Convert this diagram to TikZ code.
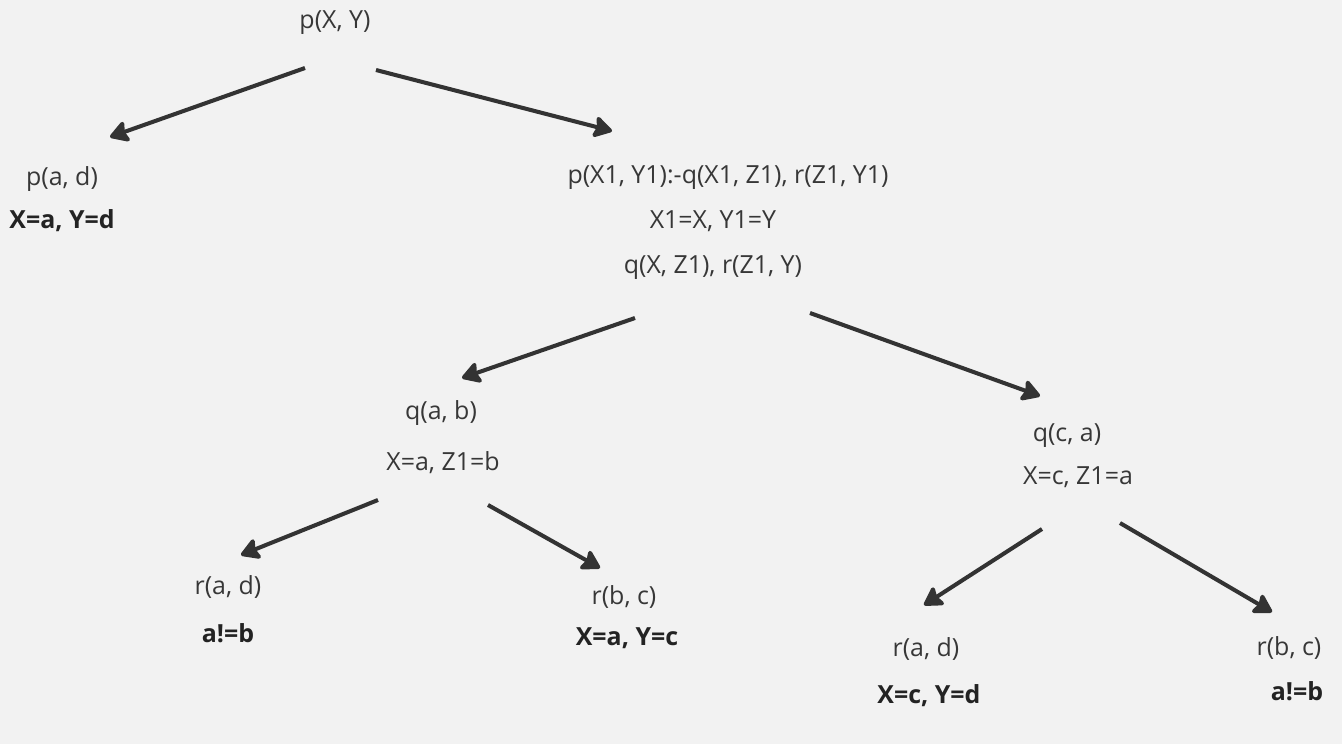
\documentclass[tikz,border=0pt]{standalone}
\usepackage{fontspec}
\setmainfont{Open Sans}
\usetikzlibrary{arrows.meta}
\definecolor{canvasbg}{RGB}{242, 242, 242}
\definecolor{goaltext}{RGB}{55, 55, 55}
\definecolor{bindtext}{RGB}{35, 35, 35}
\definecolor{edgegray}{RGB}{51, 51, 51}

\begin{document}
\begin{tikzpicture}[x=0.02cm, y=-0.02cm,
  goal/.style={font=\fontsize{14.2}{16}\selectfont, text=goaltext, inner sep=0pt},
  bind/.style={font=\fontsize{14.2}{16}\selectfont\bfseries, text=bindtext, inner sep=0pt},
  branch/.style={draw=edgegray, line width=2.3pt, -{Stealth[length=12pt, width=14pt, inset=2pt, round]}}]
  % Canvas
  \fill[canvasbg] (0, 0) rectangle (1342, 744);

  % Root goal
  \node[goal] (root) at (335, 23) {p(X, Y)};

  % First clause
  \node[goal] (pad) at (62, 179) {p(a, d)};
  \node[bind] (padres) at (62, 221) {X=a, Y=d};

  % Second clause
  \node[goal] (rule) at (728, 178) {p(X1, Y1):-q(X1, Z1), r(Z1, Y1)};
  \node[goal] (unify) at (713, 221) {X1=X, Y1=Y};
  \node[goal] (subgoals) at (713, 268) {q(X, Z1), r(Z1, Y)};

  % q facts
  \node[goal] (qab) at (441, 413) {q(a, b)};
  \node[goal] (qabres) at (443, 463) {X=a, Z1=b};
  \node[goal] (qca) at (1067, 436) {q(c, a)};
  \node[goal] (qcares) at (1078, 477) {X=c, Z1=a};

  % r facts under q(a, b)
  \node[goal] (radl) at (228, 587) {r(a, d)};
  \node[bind] (radlres) at (228, 633) {a!=b};
  \node[goal] (rbcl) at (624, 597) {r(b, c)};
  \node[bind] (rbclres) at (627, 638) {X=a, Y=c};

  % r facts under q(c, a)
  \node[goal] (radr) at (926, 649) {r(a, d)};
  \node[bind] (radrres) at (929, 696) {X=c, Y=d};
  \node[goal] (rbcr) at (1289, 648) {r(b, c)};
  \node[bind] (rbcrres) at (1297, 691) {a!=b};

  % Arrow ends
  \coordinate (root-l) at (305, 68);
  \coordinate (root-r) at (376, 70);
  \coordinate (pad-in) at (110, 137);
  \coordinate (rule-in) at (612, 131);
  \coordinate (sub-l) at (635, 318);
  \coordinate (sub-r) at (810, 313);
  \coordinate (qab-in) at (462, 378);
  \coordinate (qca-in) at (1040, 396);
  \coordinate (qab-l) at (378, 500);
  \coordinate (qab-r) at (488, 505);
  \coordinate (radl-in) at (241, 555);
  \coordinate (rbcl-in) at (600, 568);
  \coordinate (qca-l) at (1042, 529);
  \coordinate (qca-r) at (1120, 523);
  \coordinate (radr-in) at (924, 605);
  \coordinate (rbcr-in) at (1272, 612);

  % Branches
  \draw[branch] (root-l) -- (pad-in);
  \draw[branch] (root-r) -- (rule-in);
  \draw[branch] (sub-l) -- (qab-in);
  \draw[branch] (sub-r) -- (qca-in);
  \draw[branch] (qab-l) -- (radl-in);
  \draw[branch] (qab-r) -- (rbcl-in);
  \draw[branch] (qca-l) -- (radr-in);
  \draw[branch] (qca-r) -- (rbcr-in);
\end{tikzpicture}
\end{document}
